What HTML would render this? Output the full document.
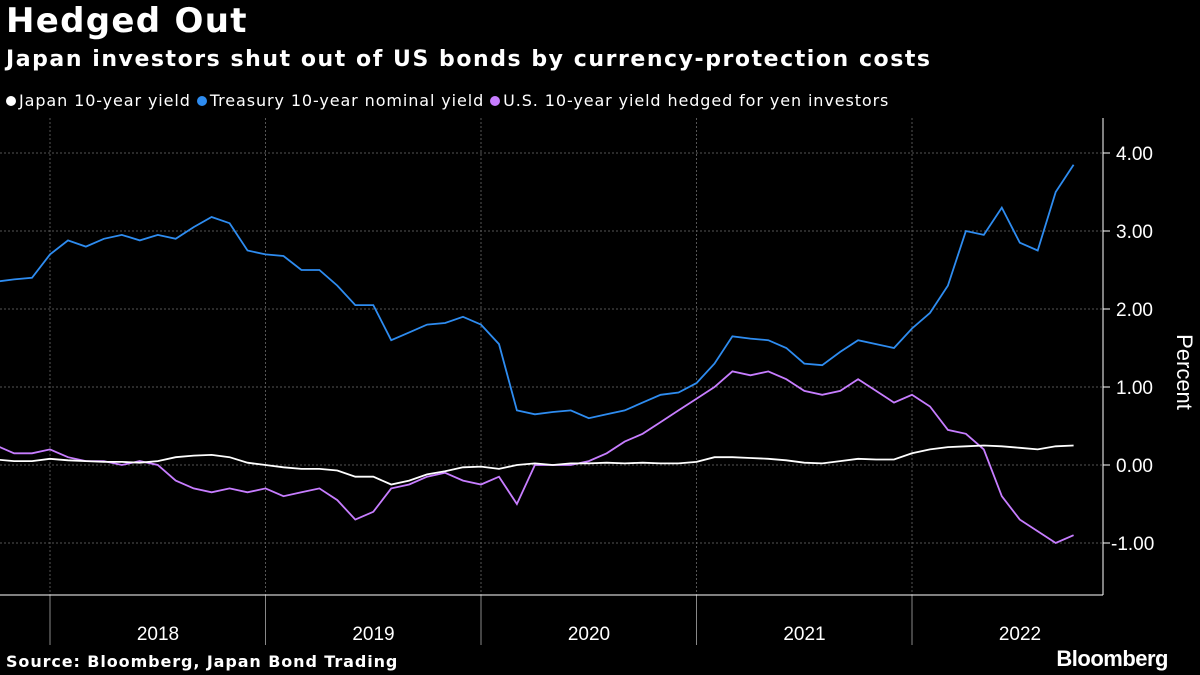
<!DOCTYPE html>
<html><head><meta charset="utf-8"><style>
body{margin:0;background:#000;width:1200px;height:675px;overflow:hidden;font-family:"Liberation Sans",sans-serif;color:#fff}
#t{position:absolute;left:6px;top:1px;font-size:34px;font-weight:bold;font-family:"DejaVu Sans",sans-serif;letter-spacing:1.3px}
#s{position:absolute;left:6px;top:47px;font-size:22px;font-weight:bold;font-family:"DejaVu Sans",sans-serif;letter-spacing:1.55px}
#lg{position:absolute;left:6px;top:91px;font-size:16px;font-family:"DejaVu Sans",sans-serif;letter-spacing:0.9px}
.sw{display:inline-block;width:10px;height:10px;border-radius:5px;margin-right:3px;vertical-align:0px}
#src{position:absolute;left:6px;top:652px;font-size:16px;font-weight:bold;font-family:"DejaVu Sans",sans-serif;letter-spacing:0.9px}
#bb{position:absolute;right:32px;top:646px;font-size:22px;font-weight:bold;letter-spacing:-0.5px}
</style></head><body>
<div id="t">Hedged Out</div>
<div id="s">Japan investors shut out of US bonds by currency-protection costs</div>
<div id="lg">
<span><span class="sw" style="background:#fff"></span>Japan 10-year yield</span>&nbsp;<span><span class="sw" style="background:#2e8cf0"></span>Treasury 10-year nominal yield</span>&nbsp;<span><span class="sw" style="background:#c77dff"></span>U.S. 10-year yield hedged for yen investors</span></div>
<svg id="c" width="1200" height="675" style="position:absolute;left:0;top:0"></svg>
<div id="src">Source: Bloomberg, Japan Bond Trading</div>
<div id="bb">Bloomberg</div>
<script>
const yTicks=[4,3,2,1,0,-1];
const years=[2018,2019,2020,2021,2022];
const startYear=2017.75;
const treasury=[2.35,2.38,2.40,2.70,2.88,2.80,2.90,2.95,2.88,2.95,2.90,3.05,3.18,3.10,2.75,2.70,2.68,2.50,2.50,2.30,2.05,2.05,1.60,1.70,1.80,1.82,1.90,1.80,1.55,0.70,0.65,0.68,0.70,0.60,0.65,0.70,0.80,0.90,0.93,1.05,1.30,1.65,1.62,1.60,1.50,1.30,1.28,1.45,1.60,1.55,1.50,1.75,1.95,2.30,3.00,2.95,3.30,2.85,2.75,3.50,3.85];
const hedged=[0.25,0.15,0.15,0.20,0.10,0.05,0.05,0.00,0.05,0.00,-0.20,-0.30,-0.35,-0.30,-0.35,-0.30,-0.40,-0.35,-0.30,-0.45,-0.70,-0.60,-0.30,-0.25,-0.15,-0.10,-0.20,-0.25,-0.15,-0.50,0.00,0.00,0.00,0.05,0.15,0.30,0.40,0.55,0.70,0.85,1.00,1.20,1.15,1.20,1.10,0.95,0.90,0.95,1.10,0.95,0.80,0.90,0.75,0.45,0.40,0.20,-0.40,-0.70,-0.85,-1.00,-0.90];
const japan=[0.07,0.05,0.05,0.08,0.06,0.05,0.04,0.04,0.03,0.05,0.10,0.12,0.13,0.10,0.03,0.00,-0.03,-0.05,-0.05,-0.07,-0.15,-0.15,-0.25,-0.20,-0.12,-0.08,-0.03,-0.02,-0.05,0.00,0.02,0.00,0.02,0.02,0.03,0.02,0.03,0.02,0.02,0.04,0.10,0.10,0.09,0.08,0.06,0.03,0.02,0.05,0.08,0.07,0.07,0.15,0.20,0.23,0.24,0.25,0.24,0.22,0.20,0.24,0.25];
const svg=document.getElementById('c');const NS='http://www.w3.org/2000/svg';
const X=y=>50+(y-2018)*215.5, Y=v=>465-v*78;
function mk(t,a){const e=document.createElementNS(NS,t);for(const k in a)e.setAttribute(k,a[k]);svg.appendChild(e);return e;}
yTicks.forEach(v=>{
 const g=mk('line',{x1:0,x2:1103,y1:Y(v),y2:Y(v),stroke:'#555','stroke-dasharray':'2,2'});
 
 const tk=mk('line',{x1:1103,x2:1110,y1:Y(v),y2:Y(v),stroke:'#fff'});
 
 const t=mk('text',{x:v<0?1111:1116,y:Y(v)+7,fill:'#fff','font-size':19});t.textContent=v.toFixed(2);
 
});
years.forEach(yr=>{
 const g=mk('line',{x1:X(yr),x2:X(yr),y1:118,y2:595,stroke:'#555','stroke-dasharray':'2,2'});
 
 const tk=mk('line',{x1:X(yr),x2:X(yr),y1:595,y2:645,stroke:'#888'});
 
 const t=mk('text',{x:X(yr)+108,y:640,fill:'#fff','font-size':19,'text-anchor':'middle'});t.textContent=yr;
 
});
const ax=mk('line',{x1:1103,x2:1103,y1:118,y2:595,stroke:'#fff'});
const bx=mk('line',{x1:0,x2:1103,y1:595,y2:595,stroke:'#fff'});
const yl=mk('text',{x:1177,y:372,fill:'#fff','font-size':22,'text-anchor':'middle',transform:'rotate(90 1177 372)'});yl.textContent='Percent';

function line(arr,col,name){
 const d=arr.map((v,i)=>(i?'L':'M')+X(startYear+i/12).toFixed(1)+','+Y(v).toFixed(1)).join('');
 const p=mk('path',{d:d,fill:'none',stroke:col,'stroke-width':1.8});
 
}
line(treasury,'#2e8cf0','treasury-line');
line(hedged,'#c77dff','hedged-line');
line(japan,'#fff','japan-line');
</script></body></html>
